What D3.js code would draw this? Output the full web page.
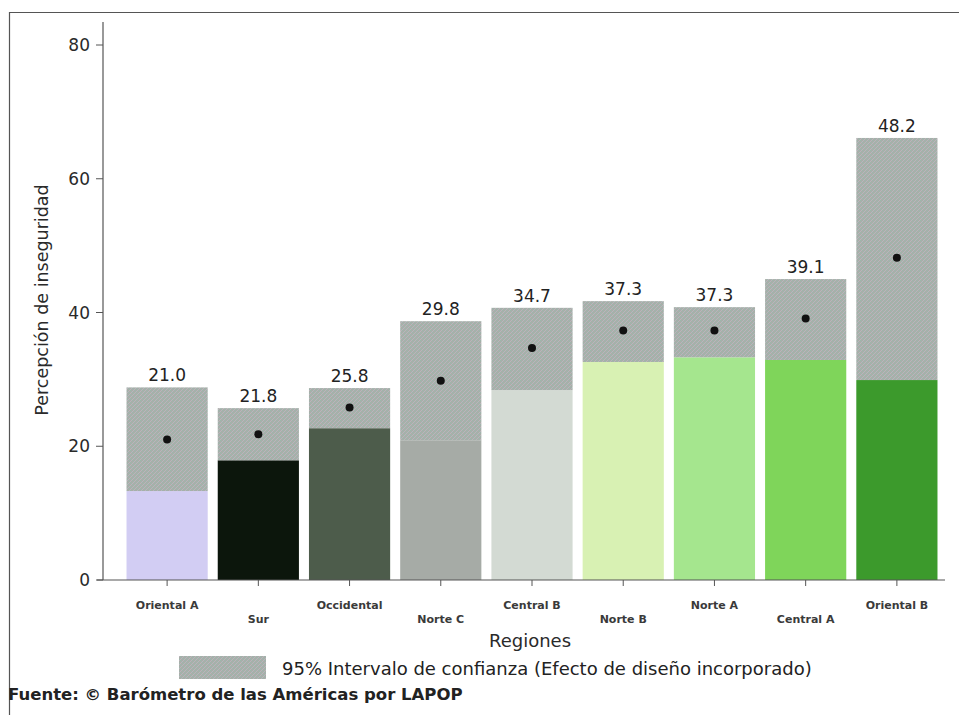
<!DOCTYPE html>
<html><head><meta charset="utf-8">
<script src="https://cdn.jsdelivr.net/npm/d3@7"></script>
<style>body{margin:0;background:#fff}svg{display:block}text{font-family:"DejaVu Sans","Liberation Sans",Arial,sans-serif}</style>
</head><body>
<svg id="c" width="959" height="715"></svg>
<script>
const regions = ["Oriental A","Sur","Occidental","Norte C","Central B","Norte B","Norte A","Central A","Oriental B"];
const means   = [21.0, 21.8, 25.8, 29.8, 34.7, 37.3, 37.3, 39.1, 48.2];
const lower   = [13.3, 17.9, 22.7, 20.9, 28.4, 32.6, 33.3, 32.9, 29.9];
const upper   = [28.8, 25.7, 28.7, 38.7, 40.7, 41.7, 40.8, 45.0, 66.1];
const colors  = ["#d2cdf3","#0c160c","#4d5c4b","#a6aba6","#d3dad3","#d8f1b3","#a5e68e","#7fd55a","#3c9a2c"];
const yTicks  = [0,20,40,60,80];
const labels = {
  yTitle: "Percepción de inseguridad",
  xTitle: "Regiones",
  legend: "95% Intervalo de confianza (Efecto de diseño incorporado)",
  source: "Fuente: © Barómetro de las Américas por LAPOP"
};

const svg = d3.select("#c");
const defs = svg.append("defs");
const pat = defs.append("pattern").attr("id","hatch").attr("patternUnits","userSpaceOnUse")
  .attr("width",4).attr("height",4);
pat.append("rect").attr("width",4).attr("height",4).attr("fill","#a8afa8");
pat.append("path").attr("d","M0,4 L4,0").attr("stroke","#bdb3bd").attr("stroke-width",0.9);
pat.append("path").attr("d","M0,0 L4,4").attr("stroke","#9cb5ae").attr("stroke-width",0.9);

// frame
svg.append("path").attr("d","M9.5,715 L9.5,12.5 L959,12.5").attr("fill","none").attr("stroke","#555").attr("stroke-width",1.2);

const x = d3.scaleBand().domain(regions).range([121.5, 942.5]).paddingInner(0.11).paddingOuter(0.055);
const y = d3.scaleLinear().domain([0,80]).range([580,45]);

// y axis
const gy = svg.append("g").attr("transform","translate(103,0)");
gy.append("line").attr("x1",0).attr("x2",0).attr("y1",22).attr("y2",580).attr("stroke","#555").attr("stroke-width",1.2);
gy.selectAll(".t").data(yTicks).enter().append("line")
  .attr("x1",-7).attr("x2",0).attr("y1",d=>y(d)).attr("y2",d=>y(d)).attr("stroke","#555");
gy.selectAll(".tl").data(yTicks).enter().append("text")
  .attr("x",-13).attr("y",d=>y(d)).attr("dy","0.36em").attr("text-anchor","end")
  .attr("font-size",17).attr("fill","#2a2a2a").text(d=>d);
svg.append("text").attr("transform","translate(48,300) rotate(-90)").attr("text-anchor","middle")
  .attr("font-size",17.5).attr("fill","#2a2a2a").text(labels.yTitle);

// bars
const g = svg.append("g");
regions.forEach((r,i)=>{
  const bx = x(r), bw = x.bandwidth();
  g.append("rect").attr("x",bx).attr("width",bw).attr("y",y(lower[i])).attr("height",y(0)-y(lower[i])).attr("fill",colors[i]);
  g.append("rect").attr("x",bx).attr("width",bw).attr("y",y(upper[i])).attr("height",y(lower[i])-y(upper[i])).attr("fill","url(#hatch)");
  g.append("circle").attr("cx",bx+bw/2).attr("cy",y(means[i])).attr("r",4).attr("fill","#111");
  g.append("text").attr("x",bx+bw/2).attr("y",y(upper[i])-6).attr("text-anchor","middle")
    .attr("font-size",17).attr("fill","#222").text(means[i].toFixed(1));
});

// x axis
svg.append("line").attr("x1",97).attr("x2",945).attr("y1",580).attr("y2",580).attr("stroke","#555").attr("stroke-width",1.2);
regions.forEach((r,i)=>{
  const cx = x(r)+x.bandwidth()/2;
  svg.append("line").attr("x1",cx).attr("x2",cx).attr("y1",580).attr("y2",586).attr("stroke","#555");
  svg.append("text").attr("x",cx).attr("y",i%2===0?609:623).attr("text-anchor","middle")
    .attr("font-size",11).attr("font-weight","bold").attr("fill","#3a3a3a").text(r);
});
svg.append("text").attr("x",530).attr("y",647).attr("text-anchor","middle").attr("font-size",18).attr("fill","#2a2a2a").text(labels.xTitle);

// legend
svg.append("rect").attr("x",179).attr("y",656).attr("width",87).attr("height",23).attr("fill","url(#hatch)");
svg.append("text").attr("x",282).attr("y",675).attr("font-size",18).attr("fill","#222").text(labels.legend);
svg.append("text").attr("x",8).attr("y",700).attr("font-size",16.5).attr("font-weight","bold").attr("fill","#222").text(labels.source);
</script>
</body></html>
